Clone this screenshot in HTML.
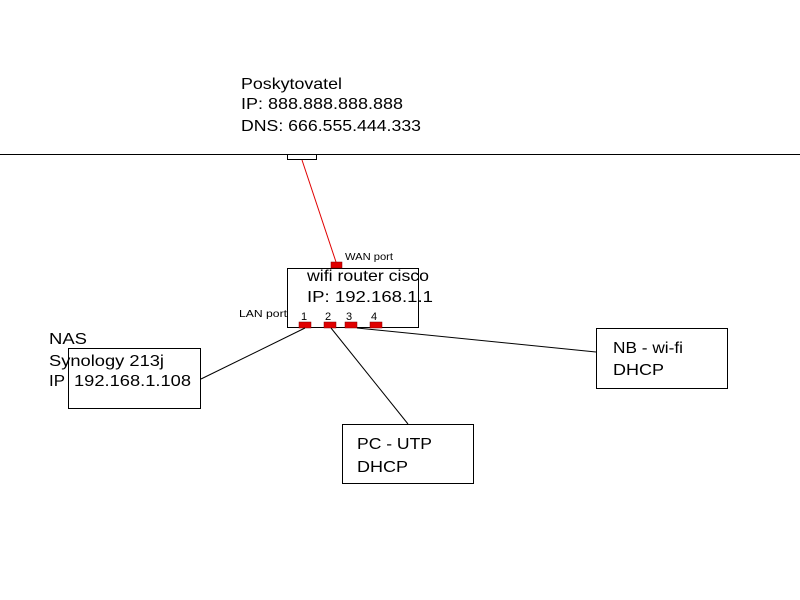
<!DOCTYPE html>
<html><head><meta charset="utf-8"><style>
html,body{margin:0;padding:0;background:#fff;}
svg{display:block;}
text{font-family:"Liberation Sans",Arial,sans-serif;fill:#000;}
</style></head><body>
<svg width="800" height="600" viewBox="0 0 800 600" xmlns="http://www.w3.org/2000/svg">
<rect width="800" height="600" fill="#fff"/>
<!-- provider text -->
<text x="241" y="89" font-size="16" textLength="101" lengthAdjust="spacingAndGlyphs">Poskytovatel</text>
<text x="241" y="109" font-size="16" textLength="162" lengthAdjust="spacingAndGlyphs">IP: 888.888.888.888</text>
<text x="241" y="131" font-size="16" textLength="180" lengthAdjust="spacingAndGlyphs">DNS: 666.555.444.333</text>
<!-- horizontal line -->
<line x1="0" y1="154.5" x2="800" y2="154.5" stroke="#000" stroke-width="1"/>
<rect x="287.5" y="154.5" width="29" height="5" fill="#fff" stroke="#000" stroke-width="1"/>
<!-- red line -->
<line x1="302" y1="160" x2="336" y2="262" stroke="#e00000" stroke-width="1"/>
<!-- router box -->
<rect x="287.5" y="268.5" width="131" height="59" fill="#fff" stroke="#000" stroke-width="1"/>
<text x="307" y="281" font-size="16" textLength="122" lengthAdjust="spacingAndGlyphs">wifi router cisco</text>
<text x="307" y="302" font-size="16" textLength="126" lengthAdjust="spacingAndGlyphs">IP: 192.168.1.1</text>
<line x1="418.5" y1="268" x2="418.5" y2="328" stroke="#000" stroke-width="1"/>
<!-- WAN port -->
<rect x="331" y="262" width="11" height="6" fill="#e00000" stroke="#800000" stroke-width="0.5"/>
<text x="345" y="260" font-size="10" textLength="48" lengthAdjust="spacingAndGlyphs">WAN port</text>
<!-- LAN port -->
<text x="239" y="317" font-size="10" textLength="48" lengthAdjust="spacingAndGlyphs">LAN port</text>
<text x="301" y="320" font-size="11">1</text>
<text x="325" y="320" font-size="11">2</text>
<text x="346" y="320" font-size="11">3</text>
<text x="371" y="320" font-size="11">4</text>
<rect x="299" y="322" width="12" height="6" fill="#e00000" stroke="#800000" stroke-width="0.5"/>
<rect x="324" y="322" width="12" height="6" fill="#e00000" stroke="#800000" stroke-width="0.5"/>
<rect x="345" y="322" width="12" height="6" fill="#e00000" stroke="#800000" stroke-width="0.5"/>
<rect x="370" y="322" width="12" height="6" fill="#e00000" stroke="#800000" stroke-width="0.5"/>
<!-- connectors -->
<line x1="305" y1="328" x2="201" y2="379" stroke="#000" stroke-width="1"/>
<line x1="331" y1="328" x2="408" y2="424" stroke="#000" stroke-width="1"/>
<line x1="357" y1="328" x2="596" y2="352" stroke="#000" stroke-width="1"/>
<!-- NAS -->
<text x="49" y="344" font-size="16" textLength="38" lengthAdjust="spacingAndGlyphs">NAS</text>
<rect x="68.5" y="348.5" width="132" height="60" fill="none" stroke="#000" stroke-width="1"/>
<text x="49" y="366" font-size="16" textLength="115" lengthAdjust="spacingAndGlyphs">Synology 213j</text>
<text x="49" y="386" font-size="16" textLength="16" lengthAdjust="spacingAndGlyphs">IP</text>
<text x="74" y="386" font-size="16" textLength="117" lengthAdjust="spacingAndGlyphs">192.168.1.108</text>
<!-- PC -->
<rect x="342.5" y="424.5" width="131" height="59" fill="#fff" stroke="#000" stroke-width="1"/>
<text x="357" y="449" font-size="16" textLength="75" lengthAdjust="spacingAndGlyphs">PC - UTP</text>
<text x="357" y="472" font-size="16" textLength="51" lengthAdjust="spacingAndGlyphs">DHCP</text>
<!-- NB -->
<rect x="596.5" y="328.5" width="131" height="60" fill="#fff" stroke="#000" stroke-width="1"/>
<text x="613" y="353" font-size="16" textLength="70" lengthAdjust="spacingAndGlyphs">NB - wi-fi</text>
<text x="613" y="375" font-size="16" textLength="51" lengthAdjust="spacingAndGlyphs">DHCP</text>
</svg>
</body></html>
